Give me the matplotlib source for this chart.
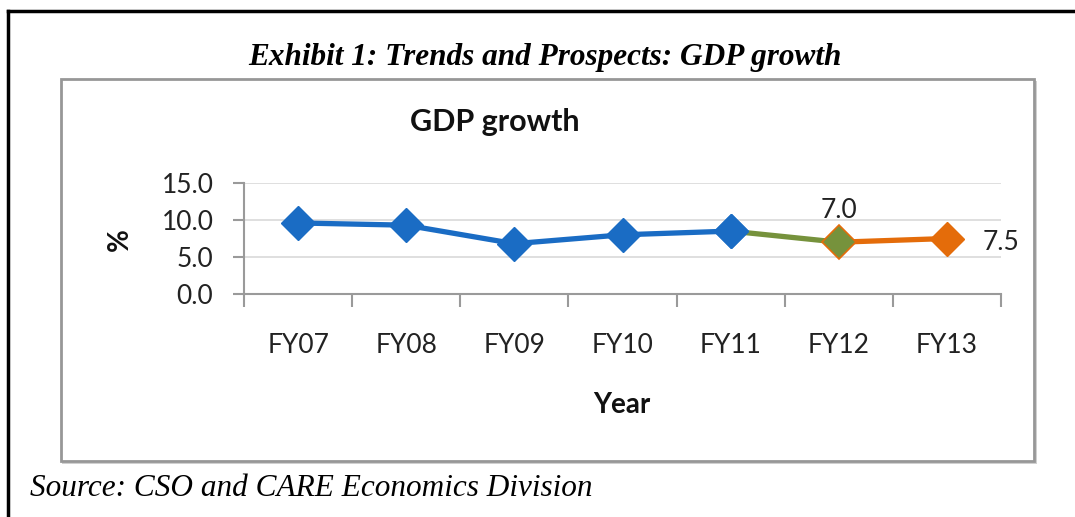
import matplotlib
matplotlib.use("Agg")
import matplotlib.pyplot as plt
from matplotlib.patches import Rectangle
from matplotlib.lines import Line2D

categories = ["FY07", "FY08", "FY09", "FY10", "FY11", "FY12", "FY13"]
actual = [9.6, 9.3, 6.8, 8.0, 8.5]
estimate_fy12 = 7.0
projection_fy13 = 7.5
yticks = [0.0, 5.0, 10.0, 15.0]

W, H = 1075, 517
fig = plt.figure(figsize=(W / 100, H / 100), dpi=100)
fig.patch.set_facecolor("white")

def fx(px):
    return px / W

def fy(py):
    return 1 - py / H

# outer black frame (top and left)
fig.add_artist(Line2D([fx(8), fx(1075)], [fy(11), fy(11)], color="black", lw=2.5))
fig.add_artist(Line2D([fx(8), fx(8)], [fy(11), fy(517)], color="black", lw=2.5))

# chart box with shadow
fig.add_artist(Rectangle((fx(62), fy(464)), fx(1037) - fx(62), fy(81) - fy(464),
                         transform=fig.transFigure, facecolor="#d0d0d0", edgecolor="none", zorder=-2))
fig.add_artist(Rectangle((fx(61), fy(461)), fx(1034) - fx(61), fy(79) - fy(461),
                         transform=fig.transFigure, facecolor="white", edgecolor="#979797", lw=2.0, zorder=-1))

fig.text(fx(545), fy(57), "Exhibit 1: Trends and Prospects: GDP growth", ha="center", va="center",
         fontfamily="Liberation Serif", fontstyle="italic", fontweight="bold", fontsize=22.5)
fig.text(fx(30), fy(488), "Source: CSO and CARE Economics Division", ha="left", va="center",
         fontfamily="Liberation Serif", fontstyle="italic", fontsize=22.5)

ax = fig.add_axes([fx(244), fy(294), fx(1001) - fx(244), fy(183) - fy(294)])
ax.set_facecolor("none")
ax.set_xlim(-0.5, len(categories) - 0.5)
ax.set_ylim(0, 15)

font = "Lato"
fs = 19
xs = list(range(len(categories)))
blue = "#1a6cc4"
green = "#76923c"
orange = "#e46c0a"
ms = 17.5
lw = 3.8

ax.plot(xs[:5], actual, color=blue, lw=lw, marker="D", ms=ms, mfc=blue, mec=blue, zorder=3, clip_on=False)
ax.plot([xs[4], xs[5]], [actual[-1], estimate_fy12], color=green, lw=lw, zorder=2, solid_capstyle="butt")
ax.plot([xs[5], xs[6]], [estimate_fy12, projection_fy13], color=orange, lw=lw, zorder=2)
ax.plot([xs[5]], [estimate_fy12], marker="D", ms=ms, mfc=green, mec=orange, mew=1.2, zorder=4, clip_on=False)
ax.plot([xs[6]], [projection_fy13], marker="D", ms=ms, mfc=orange, mec=orange, zorder=4, clip_on=False)
ax.plot([xs[4]], [actual[-1]], marker="D", ms=ms, mfc=blue, mec=blue, zorder=4, clip_on=False)

ax.annotate(f"{estimate_fy12:.1f}", (xs[5], estimate_fy12), xytext=(0, 14), textcoords="offset points",
            ha="center", va="bottom", fontsize=fs, fontfamily=font, color="#222222")
ax.annotate(f"{projection_fy13:.1f}", (xs[6], projection_fy13), xytext=(26, -3), textcoords="offset points",
            ha="left", va="center", fontsize=fs, fontfamily=font, color="#222222")

ax.set_yticks(yticks)
ax.set_yticklabels([f"{v:.1f}" for v in yticks], fontsize=fs, fontfamily=font, color="#222222")
ax.set_xticks(xs)
ax.set_xticklabels(categories, fontsize=fs, fontfamily=font, color="#222222")
ax.set_xticks([x - 0.5 for x in range(len(categories) + 1)], minor=True)
ax.tick_params(axis="x", which="major", length=0, pad=28)
ax.tick_params(axis="x", which="minor", length=9, width=1.5, color="#9a9a9a")
ax.tick_params(axis="y", length=8, width=1.5, color="#9a9a9a", pad=14)

ax.grid(axis="y", color="#d9d9d9", lw=1.2, zorder=0)
ax.set_axisbelow(True)
for s in ["top", "right"]:
    ax.spines[s].set_visible(False)
for s in ["left", "bottom"]:
    ax.spines[s].set_color("#9a9a9a")
    ax.spines[s].set_linewidth(1.5)

fig.text(fx(495), fy(122), "GDP growth", ha="center", va="center", fontsize=22,
         fontweight="bold", fontfamily=font, color="#111111")
fig.text(fx(622), fy(405), "Year", ha="center", va="center", fontsize=20,
         fontweight="bold", fontfamily=font, color="#111111")
fig.text(fx(120), fy(240), "%", ha="center", va="center", fontsize=20, rotation=90,
         fontweight="bold", fontfamily=font, color="#111111")

fig.savefig("out.png", dpi=100)
